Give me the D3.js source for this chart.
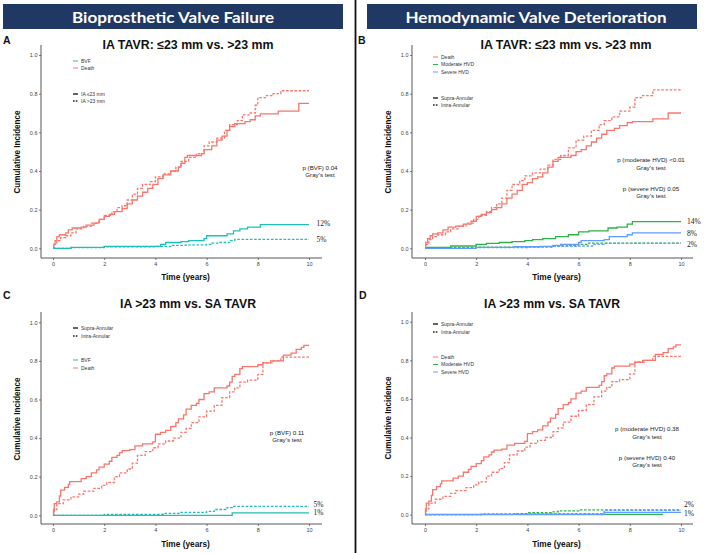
<!DOCTYPE html>
<html><head><meta charset="utf-8">
<script src="https://cdn.jsdelivr.net/npm/d3@7"></script>
<style>body{margin:0;background:#fff}svg{display:block}</style>
</head><body>
<script>
// ---------- DATA ----------
const xTicks = [0, 2, 4, 6, 8, 10];
const yTicks = [0, 0.2, 0.4, 0.6, 0.8, 1.0];
const bannerTitles = ["Bioprosthetic Valve Failure", "Hemodynamic Valve Deterioration"];
const panelLetters = ["A", "B", "C", "D"];
const panelTitles = ["IA TAVR: ≤23 mm vs. >23 mm", "IA TAVR: ≤23 mm vs. >23 mm", "IA >23 mm vs. SA TAVR", "IA >23 mm vs. SA TAVR"];

// Panel A : IA <=23 (solid) vs IA >23 (dashed)
const aDeathLe23 = [[0,0],[0.03,0.02],[0.08,0.04],[0.15,0.06],[0.25,0.07],[0.5,0.08],[0.6,0.095],[0.75,0.105],[1.1,0.11],[1.3,0.12],[1.6,0.13],[1.8,0.15],[2.0,0.165],[2.2,0.175],[2.4,0.19],[2.7,0.205],[2.9,0.23],[3.1,0.25],[3.3,0.27],[3.5,0.29],[3.7,0.31],[3.9,0.33],[4.1,0.36],[4.3,0.38],[4.6,0.40],[4.9,0.42],[5.0,0.44],[5.15,0.47],[5.25,0.48],[5.8,0.49],[5.9,0.51],[6.2,0.53],[6.4,0.56],[6.6,0.58],[6.8,0.61],[6.9,0.63],[7.1,0.645],[7.5,0.655],[7.7,0.665],[7.9,0.685],[8.1,0.695],[8.8,0.71],[9.6,0.75],[10,0.75]];
const aDeathGt23 = [[0,0],[0.05,0.02],[0.15,0.04],[0.3,0.055],[0.5,0.065],[0.7,0.08],[0.9,0.1],[1.2,0.115],[1.5,0.13],[1.8,0.15],[2.0,0.17],[2.3,0.19],[2.5,0.21],[2.7,0.22],[2.9,0.25],[3.1,0.28],[3.3,0.31],[3.5,0.33],[3.8,0.345],[4.0,0.37],[4.3,0.385],[4.6,0.40],[4.8,0.42],[5.0,0.45],[5.3,0.47],[5.6,0.49],[5.9,0.53],[6.1,0.55],[6.4,0.57],[6.7,0.61],[6.9,0.64],[7.2,0.66],[7.4,0.69],[7.7,0.70],[7.9,0.74],[8.0,0.78],[8.3,0.79],[8.6,0.80],[8.9,0.815],[10,0.815]];
const aBvfLe23 = [[0,0],[0.7,0.005],[2.0,0.01],[4.2,0.02],[4.4,0.03],[5.0,0.035],[5.3,0.04],[5.9,0.05],[6.0,0.065],[6.8,0.075],[7.05,0.09],[7.3,0.1],[7.6,0.11],[8.1,0.122],[10,0.122]];
const aBvfGt23 = [[0,0],[0.7,0.003],[2.0,0.008],[4.0,0.01],[4.6,0.015],[5.2,0.018],[6.0,0.02],[6.2,0.027],[6.5,0.03],[6.9,0.04],[7.1,0.046],[10,0.046]];

// Panel B : Supra-Annular (solid) vs Intra-Annular (dashed)
const bDeathSA = [[0,0],[0.03,0.03],[0.1,0.05],[0.2,0.065],[0.3,0.075],[0.5,0.08],[0.7,0.095],[0.9,0.11],[1.2,0.115],[1.5,0.125],[1.8,0.14],[2.0,0.165],[2.2,0.175],[2.4,0.185],[2.6,0.20],[2.8,0.21],[3.0,0.23],[3.2,0.26],[3.4,0.28],[3.6,0.30],[3.8,0.33],[4.0,0.34],[4.2,0.36],[4.4,0.37],[4.6,0.39],[4.8,0.42],[5.0,0.45],[5.2,0.47],[5.7,0.48],[5.9,0.50],[6.1,0.51],[6.3,0.53],[6.5,0.55],[6.7,0.57],[6.9,0.59],[7.1,0.61],[7.4,0.62],[7.6,0.635],[7.9,0.65],[8.1,0.655],[8.9,0.67],[9.5,0.70],[10,0.70]];
const bDeathIA = [[0,0],[0.05,0.02],[0.15,0.045],[0.3,0.06],[0.5,0.07],[0.8,0.085],[1.0,0.1],[1.3,0.115],[1.6,0.13],[1.9,0.15],[2.1,0.17],[2.4,0.19],[2.6,0.21],[2.8,0.23],[3.0,0.26],[3.2,0.30],[3.4,0.33],[3.7,0.35],[3.9,0.375],[4.2,0.39],[4.5,0.41],[4.8,0.43],[5.0,0.46],[5.3,0.48],[5.6,0.52],[5.9,0.56],[6.2,0.58],[6.5,0.61],[6.8,0.64],[7.0,0.66],[7.3,0.68],[7.6,0.71],[8.0,0.73],[8.2,0.78],[8.5,0.79],[8.9,0.82],[10,0.82]];
const bModSA = [[0,0],[0.1,0.005],[1.0,0.012],[2.0,0.02],[2.4,0.025],[2.9,0.03],[3.4,0.035],[3.9,0.04],[4.2,0.045],[4.6,0.05],[5.1,0.06],[5.6,0.07],[6.0,0.085],[6.4,0.09],[7.15,0.105],[7.5,0.11],[7.9,0.125],[8.1,0.138],[10,0.138]];
const bSevSA = [[0,0],[2.0,0.005],[3.5,0.008],[4.5,0.01],[5.0,0.015],[5.3,0.02],[6.0,0.03],[6.1,0.04],[7.0,0.045],[7.2,0.06],[7.9,0.07],[8.1,0.08],[10,0.08]];
const bModIA = [[0,0],[0.5,0.003],[2.0,0.006],[4.0,0.008],[5.0,0.012],[5.6,0.015],[6.0,0.02],[6.4,0.027],[10,0.027]];
const bSevIA = [[0,0],[2.0,0.004],[4.0,0.006],[5.0,0.01],[6.0,0.012],[6.6,0.02],[7.0,0.025],[10,0.025]];

// Panel C & D : Supra-Annular (solid) vs Intra-Annular >23 mm (dashed)
const cDeathSA = [[0,0],[0.02,0.03],[0.05,0.06],[0.15,0.07],[0.25,0.1],[0.3,0.13],[0.45,0.145],[0.6,0.16],[0.65,0.175],[1.1,0.19],[1.3,0.20],[1.5,0.22],[1.7,0.235],[1.8,0.25],[2.0,0.265],[2.2,0.28],[2.3,0.30],[2.5,0.31],[2.6,0.325],[2.7,0.335],[3.0,0.34],[3.2,0.36],[3.5,0.37],[3.9,0.38],[4.0,0.42],[4.2,0.43],[4.4,0.44],[4.6,0.46],[4.8,0.48],[4.9,0.50],[5.1,0.52],[5.2,0.55],[5.4,0.57],[5.6,0.58],[5.7,0.60],[5.9,0.63],[6.1,0.64],[6.3,0.66],[6.8,0.67],[6.9,0.69],[7.0,0.72],[7.1,0.73],[7.3,0.76],[7.4,0.77],[8.0,0.78],[8.2,0.79],[8.5,0.80],[9.0,0.83],[9.3,0.84],[9.5,0.86],[9.7,0.87],[9.8,0.88],[10,0.88]];
const cDeathIA = [[0,0],[0.05,0.03],[0.15,0.06],[0.4,0.08],[0.7,0.095],[1.0,0.11],[1.2,0.125],[1.6,0.14],[1.9,0.155],[2.1,0.17],[2.4,0.20],[2.6,0.22],[2.9,0.24],[3.1,0.27],[3.3,0.31],[3.6,0.33],[3.9,0.35],[4.1,0.37],[4.4,0.385],[4.7,0.40],[5.0,0.43],[5.2,0.45],[5.4,0.48],[5.7,0.51],[6.0,0.54],[6.3,0.57],[6.6,0.61],[6.9,0.64],[7.1,0.66],[7.3,0.69],[7.6,0.70],[8.0,0.73],[8.2,0.79],[8.6,0.80],[8.9,0.82],[10,0.82]];
const cBvfSA = [[0,0],[7.0,0.013],[10,0.013]];
const cBvfIA = [[0,0],[2.0,0.005],[4.3,0.01],[5.0,0.015],[6.0,0.02],[6.3,0.03],[6.8,0.04],[7.0,0.046],[10,0.046]];
const dModSA = [[0,0.002],[9.3,0.002]];
const dSevSA = [[0,0],[7.0,0.012],[10,0.012]];
const dModIA = [[0,0],[2.2,0.003],[3.5,0.006],[4.0,0.01],[5.0,0.015],[5.2,0.02],[6.0,0.025],[10,0.025]];
const dSevIA = [[0,0],[2.2,0.002],[4.0,0.004],[5.0,0.006],[7.0,0.022],[10,0.022]];

// Texts
const legendOutcomeA = ["BVF", "Death"];
const legendOutcomeB = ["Death", "Moderate HVD", "Severe HVD"];
const legendTypeA = ["IA ≤23 mm", "IA >23 mm"];
const legendTypeB = ["Supra-Annular", "Intra-Annular"];
const pTextA = ["p (BVF) 0.04", "Gray's test"];
const pTextB = ["p (moderate HVD) <0.01", "Gray's test", "p (severe HVD) 0.05", "Gray's test"];
const pTextC = ["p (BVF) 0.11", "Gray's test"];
const pTextD = ["p (moderate HVD) 0.38", "Gray's test", "p (severe HVD) 0.40", "Gray's test"];
const endLabelsA = ["12%", "5%"];
const endLabelsB = ["14%", "8%", "2%"];
const endLabelsC = ["5%", "1%"];
const endLabelsD = ["2%", "1%"];

// ---------- STYLE ----------
const COL = {death: "#F8766D", bvf: "#1FBFB9", mod: "#2DB24A", sev: "#619CFF"};
const DASH = "2.6,1.6";

const W = 708, H = 553;
const svg = d3.select("body").append("svg").attr("width", W).attr("height", H)
  .style("font-family", "'Liberation Sans', Arial, sans-serif");

// divider
svg.append("line").attr("x1", 355.5).attr("x2", 355.5).attr("y1", 0).attr("y2", H)
  .attr("stroke", "#111").attr("stroke-width", 1.8);

// banners
[{x: 3, w: 340, cx: 173, tl: 202}, {x: 367, w: 330, cx: 536, tl: 261}].forEach((b, i) => {
  svg.append("rect").attr("x", b.x).attr("y", 4).attr("width", b.w).attr("height", 25).attr("fill", "#203864");
  svg.append("text").attr("x", b.cx).attr("y", 23).attr("text-anchor", "middle")
    .attr("fill", "#fff").style("font-family", "Lato, 'Open Sans', sans-serif").style("font-weight", "700")
    .style("font-size", "16px").attr("textLength", b.tl).attr("lengthAdjust", "spacingAndGlyphs")
    .text(bannerTitles[i]);
});

const panels = [
  { letter: panelLetters[0], title: panelTitles[0], lx: 3, ly: 44, tx: 188, ty: 49, tl: 171,
    ax: 41, xr: [53, 309], yr: [248.3, 55], top: 45, bottom: 258, right: 322, ylabY: 152, xlabY: 280,
    series: [
      {d: aDeathGt23, c: COL.death, dash: true}, {d: aDeathLe23, c: COL.death},
      {d: aBvfGt23, c: COL.bvf, dash: true}, {d: aBvfLe23, c: COL.bvf}],
    legends: [
      {x: 73, ys: [61, 68], labels: legendOutcomeA, cols: [COL.bvf, COL.death]},
      {x: 73, ys: [94, 101], labels: legendTypeA, cols: ["#222", "#222"], dashes: [false, true]}],
    ptext: pTextA, pcx: 320, pys: [168, 175],
    ends: endLabelsA, ex: 316.5, eys: [223.5, 239] },
  { letter: panelLetters[1], title: panelTitles[1], lx: 358, ly: 44, tx: 566, ty: 49, tl: 171,
    ax: 412, xr: [425, 681], yr: [248.3, 55], top: 45, bottom: 258, right: 693, ylabY: 152, xlabY: 280,
    series: [
      {d: bDeathIA, c: COL.death, dash: true}, {d: bDeathSA, c: COL.death},
      {d: bModIA, c: COL.mod, dash: true}, {d: bSevIA, c: COL.sev, dash: true},
      {d: bModSA, c: COL.mod}, {d: bSevSA, c: COL.sev}],
    legends: [
      {x: 433, ys: [57, 64.5, 72], labels: legendOutcomeB, cols: [COL.death, COL.mod, COL.sev]},
      {x: 433, ys: [98, 105], labels: legendTypeB, cols: ["#222", "#222"], dashes: [false, true]}],
    ptext: pTextB, pcx: 651, pys: [160, 167.5, 188.5, 196],
    ends: endLabelsB, ex: 687, eys: [221.5, 233, 244] },
  { letter: panelLetters[2], title: panelTitles[2], lx: 3, ly: 299, tx: 188, ty: 308, tl: 136,
    ax: 41, xr: [53, 309], yr: [515.3, 322.3], top: 312, bottom: 524, right: 322, ylabY: 419, xlabY: 547,
    series: [
      {d: cDeathIA, c: COL.death, dash: true}, {d: cDeathSA, c: COL.death},
      {d: cBvfIA, c: COL.bvf, dash: true}, {d: cBvfSA, c: COL.bvf}],
    legends: [
      {x: 73, ys: [328, 336], labels: legendTypeB, cols: ["#222", "#222"], dashes: [false, true]},
      {x: 73, ys: [360, 368], labels: legendOutcomeA, cols: [COL.bvf, COL.death]}],
    ptext: pTextC, pcx: 287, pys: [432.5, 439.5],
    ends: endLabelsC, ex: 313.5, eys: [504, 512.5] },
  { letter: panelLetters[3], title: panelTitles[3], lx: 359, ly: 299, tx: 552, ty: 308, tl: 136,
    ax: 412, xr: [425, 681], yr: [514.7, 321.7], top: 312, bottom: 524, right: 693, ylabY: 418, xlabY: 547,
    series: [
      {d: cDeathIA, c: COL.death, dash: true}, {d: cDeathSA, c: COL.death},
      {d: dModIA, c: COL.mod, dash: true}, {d: dSevIA, c: COL.sev, dash: true},
      {d: dModSA, c: COL.mod}, {d: dSevSA, c: COL.sev}],
    legends: [
      {x: 433, ys: [324, 332], labels: legendTypeB, cols: ["#222", "#222"], dashes: [false, true]},
      {x: 433, ys: [357, 364.5, 372], labels: legendOutcomeB, cols: [COL.death, COL.mod, COL.sev]}],
    ptext: pTextD, pcx: 647, pys: [429, 436.5, 458, 465],
    ends: endLabelsD, ex: 684, eys: [504.5, 513.5] }
];

panels.forEach(p => {
  const g = svg.append("g");
  const x = d3.scaleLinear().domain([0, 10]).range(p.xr);
  const y = d3.scaleLinear().domain([0, 1]).range(p.yr);

  g.append("text").attr("x", p.lx).attr("y", p.ly).style("font-weight", "700").style("font-size", "10.5px")
    .attr("fill", "#111").text(p.letter);
  g.append("text").attr("x", p.tx).attr("y", p.ty).attr("text-anchor", "middle").style("font-weight", "700")
    .style("font-size", "12.5px").attr("fill", "#111").attr("textLength", p.tl).attr("lengthAdjust", "spacingAndGlyphs")
    .text(p.title);

  // axes
  const yAx = g.append("g").attr("transform", `translate(${p.ax},0)`)
    .call(d3.axisLeft(y).tickValues(yTicks).tickFormat(d3.format(".1f")).tickSize(2).tickPadding(1.5));
  const xAx = g.append("g").attr("transform", `translate(0,${p.bottom})`)
    .call(d3.axisBottom(x).tickValues(xTicks).tickFormat(d3.format("d")).tickSize(2).tickPadding(2));
  [yAx, xAx].forEach(a => {
    a.select(".domain").remove();
    a.selectAll(".tick line").attr("stroke", "#444").attr("stroke-width", 0.7);
    a.selectAll(".tick text").attr("fill", "#444").style("font-size", "5.5px")
      .style("font-family", "'Liberation Sans', Arial, sans-serif");
  });
  g.append("line").attr("x1", p.ax).attr("x2", p.ax).attr("y1", p.top).attr("y2", p.bottom)
    .attr("stroke", "#444").attr("stroke-width", 0.9);
  g.append("line").attr("x1", p.ax).attr("x2", p.right).attr("y1", p.bottom).attr("y2", p.bottom)
    .attr("stroke", "#444").attr("stroke-width", 0.9);

  // axis titles
  g.append("text").attr("transform", `translate(${p.ax - 21},${p.ylabY}) rotate(-90)`).attr("text-anchor", "middle")
    .style("font-weight", "700").style("font-size", "8.3px").attr("fill", "#111").attr("textLength", 83)
    .attr("lengthAdjust", "spacingAndGlyphs").text("Cumulative Incidence");
  g.append("text").attr("x", (p.ax + p.right) / 2 + 4).attr("y", p.xlabY).attr("text-anchor", "middle")
    .style("font-weight", "700").style("font-size", "8.3px").attr("fill", "#111").text("Time (years)");

  // curves
  const line = d3.line().x(d => x(d[0])).y(d => y(d[1])).curve(d3.curveStepAfter);
  p.series.forEach(s => {
    g.append("path").datum(s.d).attr("d", line).attr("fill", "none").attr("stroke", s.c)
      .attr("stroke-width", 1.3).attr("stroke-dasharray", s.dash ? DASH : null);
  });

  // legends
  p.legends.forEach(L => {
    L.labels.forEach((lab, i) => {
      const yy = L.ys[i];
      g.append("line").attr("x1", L.x).attr("x2", L.x + 5).attr("y1", yy).attr("y2", yy)
        .attr("stroke", L.cols[i]).attr("stroke-width", L.dashes ? 1.4 : 1)
        .attr("stroke-dasharray", L.dashes && L.dashes[i] ? "1.6,1.2" : null);
      g.append("text").attr("x", L.x + 8).attr("y", yy).attr("dy", "0.35em").style("font-size", "5px")
        .attr("fill", "#333").text(lab);
    });
  });

  // p values
  p.ptext.forEach((t, i) => {
    g.append("text").attr("x", p.pcx).attr("y", p.pys[i]).attr("dy", "0.35em").attr("text-anchor", "middle")
      .style("font-size", "6.2px").attr("fill", "#222").text(t);
  });

  // end labels
  p.ends.forEach((t, i) => {
    g.append("text").attr("x", p.ex).attr("y", p.eys[i]).attr("dy", "0.35em")
      .style("font-family", "'Liberation Serif', 'Times New Roman', serif").style("font-size", "7.5px")
      .attr("fill", "#222").text(t);
  });
});
</script>
</body></html>
